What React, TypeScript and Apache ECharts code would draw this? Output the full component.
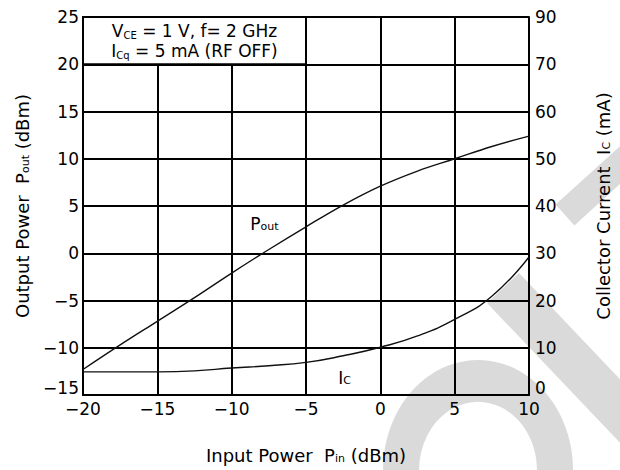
import React, { useEffect, useRef } from "react";
import * as echarts from "echarts";

// Input power (dBm) sample positions and output power
const inputPowerDbm = [-20, -17.5, -15, -12.5, -10, -7.5, -5, -2.5, 0, 2.5, 5, 7.5, 10];
const outputPowerDbm = [-12.3, -9.7, -7.2, -4.7, -2.1, 0.4, 2.8, 5.1, 7.1, 8.7, 10.0, 11.3, 12.4];

// Collector current (mA) curve
const icInputDbm = [-20, -17.5, -15, -12.5, -10, -7.5, -5, -2.5, 0, 2.5, 5, 7.5, 10];
const collectorCurrentMa = [4.9, 4.9, 4.9, 5.1, 5.7, 6.2, 6.9, 8.3, 10.1, 12.5, 16.0, 20.9, 29.2];

// Right-axis tick labels as printed on the original sheet
const rightTickLabels = ["0", "10", "20", "30", "40", "50", "60", "70", "90"];

const FONT = "DejaVu Sans";
const WM = "#dadada";

const minus = (v: number) => (v < 0 ? "\u2212" + Math.abs(v) : String(v));

export default function App() {
  const ref = useRef<HTMLDivElement>(null);

  useEffect(() => {
    const chart = echarts.init(ref.current!, null, { renderer: "svg" });
    const poutData = inputPowerDbm.map((x, i) => [x, outputPowerDbm[i]]);
    const icData = icInputDbm.map((x, i) => [x, collectorCurrentMa[i]]);

    const subStyle = { fontSize: 11, fontFamily: FONT, color: "#000", verticalAlign: "bottom", padding: [6, 0, 0, 0] };
    const mainStyle = { fontSize: 17, fontFamily: FONT, color: "#000" };
    const nameMain = { fontSize: 18, fontFamily: FONT, color: "#000" };

    chart.setOption({
      animation: false,
      backgroundColor: "#fff",
      graphic: [
        {
          type: "ring",
          silent: true,
          z: -10,
          x: 478,
          y: 470,
          scaleX: 0.95,
          scaleY: 1.1,
          shape: { cx: 0, cy: 0, r: 100, r0: 62 },
          style: { fill: WM },
        },
        {
          type: "polygon",
          silent: true,
          z: -10,
          shape: { points: [[555.6, 204.6], [574.4, 225.4], [649.4, 157.4], [630.6, 136.6]] },
          style: { fill: WM },
        },
        {
          type: "polygon",
          silent: true,
          z: -10,
          shape: { points: [[519, 273], [487, 303], [624, 447], [656, 417]] },
          style: { fill: WM },
        },
      ],
      grid: { left: 83, top: 17, width: 453, height: 378, containLabel: false },
      xAxis: {
        type: "value",
        min: -20,
        max: 10,
        interval: 5,
        name: "Input Power  P{sub|in} (dBm)",
        nameLocation: "middle",
        nameGap: 51,
        nameTextStyle: { ...nameMain, rich: { sub: subStyle } },
        axisLine: { show: true, onZero: false, lineStyle: { color: "#000", width: 2 } },
        axisTick: { show: false },
        axisLabel: { margin: 5, lineHeight: 17, formatter: minus, ...mainStyle },
        splitLine: { show: true, lineStyle: { color: "#000", width: 2 } },
      },
      yAxis: [
        {
          type: "value",
          min: -15,
          max: 25,
          interval: 5,
          position: "left",
          name: "Output Power  P{sub|out} (dBm)",
          nameLocation: "middle",
          nameRotate: 90,
          nameGap: 52,
          nameTextStyle: { ...nameMain, rich: { sub: subStyle } },
          axisLine: { show: true, onZero: false, lineStyle: { color: "#000", width: 2 } },
          axisTick: { show: false },
          axisLabel: {
            margin: 4,
            lineHeight: 14,
            verticalAlignMinLabel: "bottom",
            formatter: minus,
            ...mainStyle,
          },
          splitLine: { show: true, lineStyle: { color: "#000", width: 2 } },
        },
        {
          type: "value",
          min: 0,
          max: 80,
          interval: 10,
          position: "right",
          name: "Collector Current  I{sub|C} (mA)",
          nameLocation: "middle",
          nameRotate: 90,
          nameGap: 65,
          nameTextStyle: { ...nameMain, rich: { sub: subStyle } },
          axisLine: { show: true, onZero: false, lineStyle: { color: "#000", width: 2 } },
          axisTick: { show: false },
          axisLabel: {
            margin: 6,
            lineHeight: 14,
            verticalAlignMinLabel: "bottom",
            formatter: (v: number) => rightTickLabels[Math.round(v / 10)] ?? String(v),
            ...mainStyle,
          },
          splitLine: { show: false },
        },
      ],
      series: [
        {
          type: "line",
          name: "Pout",
          yAxisIndex: 0,
          data: poutData,
          smooth: 0.4,
          showSymbol: false,
          lineStyle: { color: "#111", width: 1.4 },
          markArea: {
            silent: true,
            itemStyle: { color: "#fff", borderColor: "#000", borderWidth: 2 },
            label: {
              show: true,
              position: "inside",
              align: "center",
              verticalAlign: "middle",
              lineHeight: 20,
              formatter:
                "{t|V}{s|CE}{t| = 1 V, f= 2 GHz}\n{t|I}{s|Cq}{t| = 5 mA (RF OFF)}",
              rich: {
                t: { fontSize: 17, fontFamily: FONT, color: "#000", lineHeight: 20 },
                s: { fontSize: 10, fontFamily: FONT, color: "#000", lineHeight: 20, verticalAlign: "bottom", padding: [5, 0, 0, 0] },
              },
            },
            data: [[{ xAxis: -20, yAxis: 25 }, { xAxis: -5, yAxis: 20 }]],
          },
          markPoint: {
            symbol: "circle",
            symbolSize: 1,
            itemStyle: { color: "rgba(0,0,0,0)" },
            label: {
              show: true,
              position: "inside",
              formatter: "{t|P}{s|out}",
              rich: { t: mainStyle, s: subStyle },
            },
            data: [{ coord: [-7.8, 3.1] }],
          },
        },
        {
          type: "line",
          name: "Ic",
          yAxisIndex: 1,
          data: icData,
          smooth: 0.5,
          showSymbol: false,
          lineStyle: { color: "#111", width: 1.4 },
          markPoint: {
            symbol: "circle",
            symbolSize: 1,
            itemStyle: { color: "rgba(0,0,0,0)" },
            label: {
              show: true,
              position: "inside",
              formatter: "{t|I}{s|C}",
              rich: { t: mainStyle, s: subStyle },
            },
            data: [{ coord: [-2.4, 3.6] }],
          },
        },
      ],
    });
    return () => chart.dispose();
  }, []);

  return (
    <div
      ref={ref}
      style={{ position: "fixed", left: 0, top: 0, width: 620, height: 470 }}
    />
  );
}
